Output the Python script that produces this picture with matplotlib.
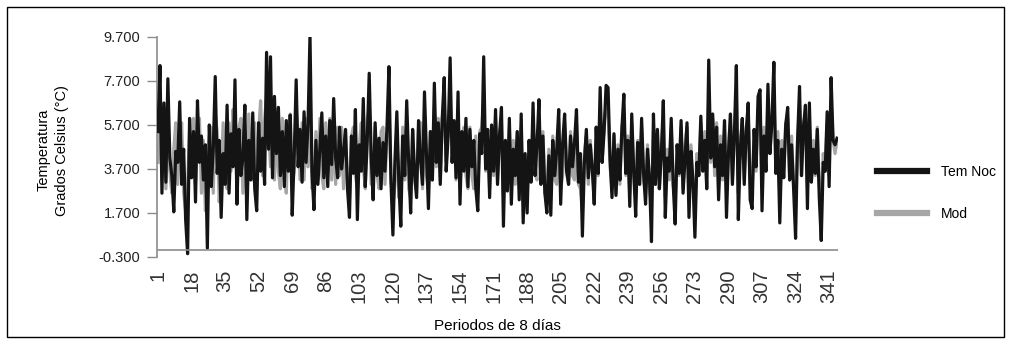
import matplotlib.pyplot as plt
import numpy as np
from matplotlib.patches import Rectangle

plt.rcParams['font.family'] = ['Liberation Sans', 'DejaVu Sans']

# Temperatura nocturna observada (Tem Noc), por periodo de 8 dias
tem_noc = [
    5.4, 8.4, 2.6, 6.7, 3.1, 7.8, 4.2, 3.4, 1.75, 4.5,
    4.0, 6.75, 3.0, 4.6, 1.4, -0.15, 6.0, 3.3, 5.4, 2.2,
    6.8, 4.0, 5.2, 3.2, 4.8, 0.1, 5.7, 2.9, 4.6, 7.9,
    3.5, 5.0, 1.5, 4.4, 3.0, 6.6, 2.6, 5.3, 3.8, 7.75,
    2.1, 5.5, 3.4, 4.2, 6.6, 1.4, 5.0, 3.2, 6.25, 2.8,
    1.8, 5.8, 3.6, 5.1, 3.0, 9.0, 4.6, 8.8, 3.3, 7.0,
    4.4, 6.5, 3.4, 5.4, 2.9, 5.9, 3.6, 6.15, 1.6, 4.3,
    7.75, 3.8, 5.5, 3.1, 6.3, 4.0, 5.7, 9.8, 3.6, 1.85,
    5.0, 3.0, 4.6, 6.25, 3.3, 5.2, 2.9, 5.9, 3.9, 6.9,
    4.2, 3.3, 5.6, 3.7, 4.5, 5.5, 2.8, 1.5, 5.2, 3.5,
    6.4, 1.4, 4.8, 3.6, 6.9, 2.9, 5.0, 8.05, 4.3, 2.3,
    5.8, 3.4, 5.1, 2.8, 4.9, 3.6, 5.6, 8.35, 3.2, 0.7,
    4.0, 6.3, 3.1, 1.1, 5.2, 3.4, 6.8, 4.0, 1.7, 5.5,
    3.5, 2.4, 5.9, 4.1, 3.0, 7.2, 4.4, 1.9, 5.4, 3.2,
    7.6, 4.0, 5.8, 3.0, 6.0, 7.85, 3.6, 5.2, 8.75, 4.0,
    5.9, 3.3, 7.2, 2.1, 5.4, 3.6, 6.0, 2.9, 5.5, 3.8,
    5.0, 2.8, 1.8, 5.3, 4.4, 8.8, 3.7, 5.5, 2.4, 5.7,
    3.6, 6.4, 3.0, 5.2, 6.5, 1.1, 5.0, 2.7, 6.0, 2.1,
    4.6, 3.4, 5.4, 2.3, 6.2, 1.25, 4.4, 1.7, 5.0, 3.1,
    6.7, 3.4, 4.8, 6.85, 3.0, 5.2, 2.6, 1.7, 4.3, 1.6,
    5.0, 3.4, 4.6, 6.4, 2.1, 4.9, 6.2, 3.6, 3.0, 5.2,
    3.8, 4.9, 6.4, 3.1, 4.4, 0.65, 4.0, 5.5, 3.3, 4.8,
    3.7, 2.1, 5.6, 3.5, 7.4, 4.0, 5.4, 7.5, 7.4, 4.2,
    2.4, 5.3, 2.5, 4.6, 3.2, 5.5, 7.1, 3.5, 5.0, 2.0,
    6.2, 3.6, 1.55, 4.9, 3.0, 6.0, 3.5, 2.1, 4.6, 3.3,
    0.4, 6.2, 3.0, 5.5, 2.8, 4.4, 6.8, 1.5, 4.2, 3.6,
    6.0, 3.0, 1.2, 4.8, 3.5, 5.9, 2.6, 4.2, 5.8, 1.5,
    4.5, 3.2, 0.6, 4.0, 3.4, 6.1, 3.6, 5.0, 2.8, 8.65,
    4.2, 6.2, 3.8, 5.6, 2.3, 4.8, 3.4, 5.9, 1.5, 4.4,
    6.2, 3.0, 5.3, 8.4, 1.4, 4.6, 6.0, 3.0, 5.4, 6.7,
    2.3, 1.9, 5.5, 3.8, 7.0, 7.3, 1.8, 5.2, 3.6, 7.55,
    4.4, 5.8, 8.55, 3.5, 5.0, 1.25, 4.6, 3.3, 5.7, 6.5,
    3.2, 4.8, 2.8, 0.55, 5.0, 7.45, 3.4, 5.6, 6.6, 1.9,
    6.7, 3.1, 4.6, 3.5, 5.5, 2.4, 0.45, 4.0, 3.6, 6.3,
    2.9, 7.85, 5.0, 4.8, 5.1,
]

# Valores del modelo (Mod)
mod = [
    4.0, 6.6, 3.2, 5.8, 2.8, 5.6, 3.6, 2.6, 4.6, 5.8,
    3.0, 5.2, 5.8, 2.6, 1.8, 3.0, 5.4, 3.4, 6.0, 3.0,
    5.4, 6.0, 2.6, 5.0, 1.8, 3.0, 5.2, 5.6, 2.6, 6.2,
    5.4, 2.2, 3.4, 5.8, 3.6, 2.8, 5.8, 3.6, 6.4, 5.2,
    3.0, 5.6, 6.0, 2.6, 5.0, 2.4, 6.2, 3.8, 3.2, 5.8,
    2.8, 5.4, 6.8, 3.4, 6.0, 7.0, 5.6, 3.8, 6.4, 3.2,
    5.8, 3.6, 2.8, 6.0, 3.6, 2.6, 5.6, 6.2, 3.0, 3.6,
    6.4, 5.4, 3.2, 5.8, 3.2, 6.0, 3.8, 7.0, 2.8, 3.0,
    5.4, 3.2, 6.0, 3.4, 2.8, 5.8, 3.6, 6.0, 3.2, 5.8,
    3.0, 5.6, 3.4, 5.6, 2.8, 5.4, 3.0, 2.4, 5.2, 5.6,
    3.4, 2.8, 4.8, 5.8, 3.8, 2.8, 6.0, 6.4, 3.0, 3.2,
    5.6, 3.4, 2.8, 5.4, 5.6, 3.0, 5.2, 6.6, 3.4, 2.0,
    3.0, 5.4, 2.4, 2.8, 5.6, 3.2, 5.8, 2.8, 2.4, 5.4,
    3.2, 2.6, 5.6, 5.8, 2.8, 6.2, 3.4, 2.8, 5.4, 3.2,
    6.4, 3.8, 6.0, 3.2, 6.0, 6.6, 4.0, 5.8, 7.0, 4.4,
    5.4, 3.2, 6.2, 2.8, 5.2, 5.6, 3.4, 2.8, 5.6, 3.4,
    2.8, 5.2, 2.6, 5.4, 5.6, 6.8, 3.6, 4.8, 2.8, 5.6,
    3.4, 6.0, 3.2, 5.4, 5.8, 2.6, 4.8, 2.8, 5.6, 2.8,
    5.0, 3.0, 5.4, 2.8, 5.6, 2.2, 3.0, 2.4, 5.0, 3.2,
    6.0, 3.6, 3.2, 6.2, 3.4, 5.4, 2.6, 2.4, 4.6, 2.6,
    5.2, 3.2, 3.0, 5.8, 2.8, 3.4, 5.8, 3.6, 3.0, 5.4,
    3.4, 3.2, 5.8, 3.0, 2.8, 1.8, 4.4, 5.2, 3.0, 5.0,
    3.6, 2.6, 5.6, 3.4, 6.4, 4.0, 5.8, 6.6, 6.2, 3.8,
    2.8, 5.2, 2.6, 4.8, 3.0, 5.6, 6.2, 3.4, 5.2, 2.6,
    5.8, 3.4, 2.4, 5.0, 3.0, 5.6, 3.2, 2.6, 4.8, 2.8,
    2.0, 5.4, 3.0, 5.4, 2.8, 4.8, 6.0, 2.4, 4.6, 3.2,
    5.6, 3.0, 2.2, 4.8, 3.4, 5.6, 2.8, 4.8, 5.6, 2.4,
    4.8, 3.0, 1.8, 4.4, 3.4, 5.8, 3.6, 5.4, 3.0, 7.0,
    4.0, 6.0, 3.4, 5.8, 2.8, 5.2, 3.2, 5.8, 2.6, 4.8,
    6.0, 3.2, 5.6, 7.0, 2.6, 5.0, 5.8, 3.2, 5.6, 6.2,
    3.0, 2.8, 5.4, 3.6, 6.4, 6.6, 2.8, 5.6, 3.6, 6.8,
    4.4, 6.0, 7.2, 3.6, 5.4, 2.6, 5.0, 3.4, 5.8, 6.0,
    3.2, 5.2, 3.0, 2.0, 5.0, 6.6, 3.4, 5.8, 6.2, 2.8,
    6.0, 3.2, 5.0, 3.4, 5.6, 3.0, 1.8, 4.4, 3.6, 5.8,
    3.4, 6.8, 5.0, 4.4, 5.0,
]

periodos = np.arange(1, len(tem_noc) + 1)
xticks = list(range(1, 342, 17))
yticks = [-0.3, 1.7, 3.7, 5.7, 7.7, 9.7]

fig = plt.figure(figsize=(10.11, 3.45), dpi=100)
ax = fig.add_axes([0.1553, 0.2551, 0.6736, 0.6377])

ax.plot(periodos, mod, color='#a6a6a6', lw=2.3, label='Mod', zorder=2)
ax.plot(periodos, tem_noc, color='#141414', lw=2.3, label='Tem Noc', zorder=3)

# eje horizontal cruza en 0 (estilo Excel)
ax.axhline(0, color='#8c8c8c', lw=1.2, zorder=4)

ax.set_xlim(0.5, len(tem_noc) + 0.5)
ax.set_ylim(-0.3, 9.7)
ax.set_yticks(yticks)
ax.set_yticklabels([f'{v:.3f}' for v in yticks], fontsize=10.5, color='#222222')
ax.set_xticks(xticks)
ax.set_xticklabels([str(t) for t in xticks], rotation=90, fontsize=14.5, color='#333333')
ax.tick_params(axis='x', length=0, pad=9)
ax.tick_params(axis='y', length=7, width=1, color='#8c8c8c', pad=5)

for s in ['top', 'right', 'bottom']:
    ax.spines[s].set_visible(False)
ax.spines['left'].set_color('#8c8c8c')
ax.spines['left'].set_linewidth(1.2)

fig.text(0.052, 0.565, 'Temperatura\nGrados Celsius (°C)', rotation=90,
         ha='center', va='center', fontsize=10.5, linespacing=1.4)
fig.text(0.492, 0.055, 'Periodos de 8 días', ha='center', va='center', fontsize=11)

# leyenda a la derecha
h, l = ax.get_legend_handles_labels()
leg = fig.legend(h[::-1], l[::-1], loc='center left', bbox_to_anchor=(0.855, 0.44),
                 frameon=False, fontsize=10, handlelength=3.6, handletextpad=1.0,
                 labelspacing=2.0)
for line in leg.get_lines():
    line.set_linewidth(4.5)

# marco exterior
fig.patches.append(Rectangle((0.007, 0.022), 0.986, 0.958, transform=fig.transFigure,
                             fill=False, edgecolor='black', lw=1.0))

plt.savefig('out.png', dpi=100)
plt.close()
